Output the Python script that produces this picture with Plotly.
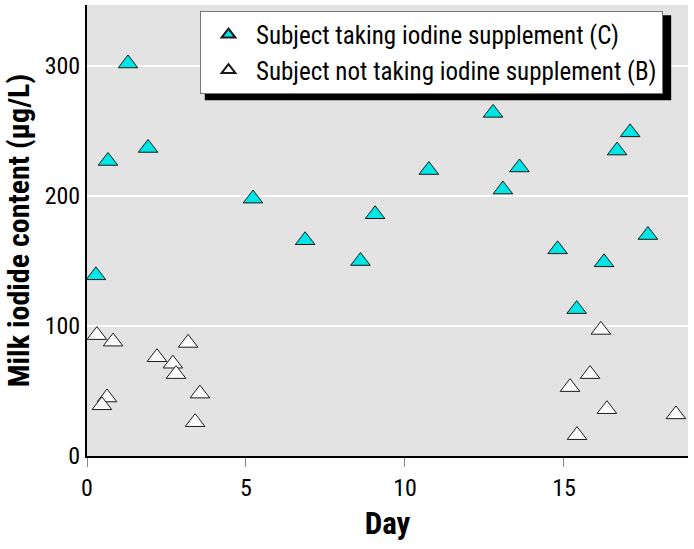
import plotly.graph_objects as go

# Subject taking iodine supplement (C)
days_c = [0.28, 0.66, 1.29, 1.92, 5.22, 6.86, 8.6, 9.06, 10.75, 12.77,
          13.08, 13.6, 14.8, 15.4, 16.26, 16.67, 17.08, 17.64]
iodide_c = [139, 227, 302, 237, 198, 166, 150, 186, 220, 264,
            205, 222, 159, 113, 149, 235, 249, 170]

# Subject not taking iodine supplement (B)
days_b = [0.31, 0.82, 2.2, 2.7, 2.8, 3.18, 3.55, 0.63, 0.47, 3.4,
          16.16, 15.82, 15.19, 16.35, 18.52, 15.41]
iodide_b = [93, 88, 76, 71, 63, 87, 48, 45, 39, 26,
            97, 63, 53, 36, 32, 16]

x_ticks = [0, 5, 10, 15]
y_ticks = [0, 100, 200, 300]

FONT = "Liberation Sans Narrow, Roboto Condensed, DejaVu Sans Condensed, Arial Narrow, sans-serif"

fig = go.Figure()
fig.add_trace(go.Scatter(
    x=days_c, y=iodide_c, mode="markers",
    name="Subject taking iodine supplement (C)",
    marker=dict(symbol="triangle-up", size=17, color="#00e6e6",
                line=dict(color="#1a1a1a", width=1)),
))
fig.add_trace(go.Scatter(
    x=days_b, y=iodide_b, mode="markers",
    name="Subject not taking iodine supplement (B)",
    marker=dict(symbol="triangle-up", size=17, color="white",
                line=dict(color="#1a1a1a", width=1)),
))

# drop shadow behind the legend box
fig.add_shape(type="rect", xref="paper", yref="paper",
              x0=0.196, x1=0.972, y0=0.789, y1=0.977,
              fillcolor="black", line_width=0, layer="above")

fig.update_layout(
    width=694, height=549,
    margin=dict(l=87, r=6, t=5, b=93, autoexpand=False),
    paper_bgcolor="white",
    plot_bgcolor="#e3e3e3",
    font=dict(family=FONT, size=24, color="black"),
    showlegend=True,
    legend=dict(x=0.188, y=0.987, xanchor="left", yanchor="top",
                bgcolor="white", bordercolor="#777", borderwidth=1,
                font=dict(family=FONT, size=25), itemsizing="constant",
                itemwidth=45, tracegroupgap=0),
)
fig.update_xaxes(
    range=[0, 18.9], tickvals=x_ticks, showgrid=False, zeroline=False,
    showline=True, linecolor="black", linewidth=2, automargin=False,
    ticks="outside", ticklen=9, tickcolor="#888", tickwidth=1,
    title=dict(text="<b>Day</b>", font=dict(size=31), standoff=12),
    tickfont=dict(size=24),
)
fig.update_yaxes(
    range=[0, 347], tickvals=y_ticks, showgrid=True, gridcolor="white",
    gridwidth=2, zeroline=False, automargin=False,
    showline=True, linecolor="black", linewidth=2, ticks="",
    title=dict(text="<b>Milk iodide content (μg/L)</b>", font=dict(size=30), standoff=6),
    tickfont=dict(size=24),
)

# the page body has a default 8px margin; drop it so the figure sits at the corner
fig.write_html("out.html", config={"displayModeBar": False},
               post_script="document.body.style.margin='0px';")
